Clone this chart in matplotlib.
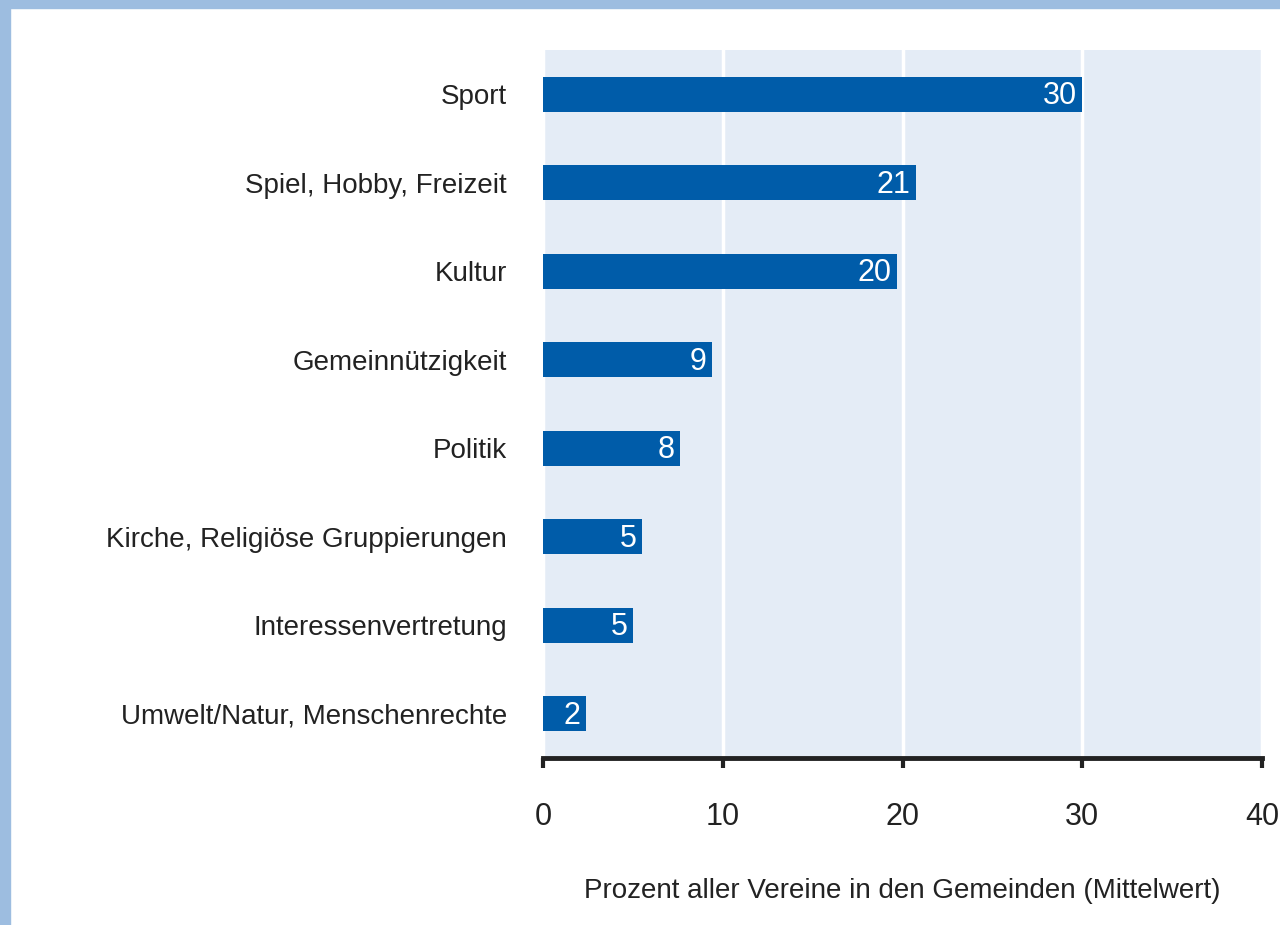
import matplotlib.pyplot as plt
from matplotlib.patches import Rectangle

categories = ["Sport", "Spiel, Hobby, Freizeit", "Kultur", "Gemeinnützigkeit",
              "Politik", "Kirche, Religiöse Gruppierungen", "Interessenvertretung",
              "Umwelt/Natur, Menschenrechte"]
values = [29.98, 20.75, 19.69, 9.40, 7.62, 5.51, 5.01, 2.39]
value_labels = ["30", "21", "20", "9", "8", "5", "5", "2"]
xticks = [0, 10, 20, 30, 40]

plt.rcParams['font.family'] = ['Liberation Sans', 'DejaVu Sans']
fs = 20
txt = '#222222'

fig = plt.figure(figsize=(12.8, 9.25), dpi=100)
fig.patch.set_facecolor('white')

# light blue frame at left and top
fig.patches.append(Rectangle((0, 0), 10 / 1280, 1, transform=fig.transFigure,
                             color='#9dbde0', zorder=0))
fig.patches.append(Rectangle((0, 1 - 8 / 925), 1, 8 / 925, transform=fig.transFigure,
                             color='#9dbde0', zorder=0))

ax = fig.add_axes([543 / 1280, 1 - 758 / 925, 719 / 1280, 708 / 925])
ax.set_facecolor('#e4ecf6')

y = list(range(len(categories)))
ax.barh(y, values, height=0.4, color='#005ca9', zorder=3)
for yi, v, lab in zip(y, values, value_labels):
    ax.text(v - 0.3, yi + 0.02, lab, color='white', ha='right', va='center',
            fontsize=22, zorder=4)

ax.set_xlim(0, 40)
ax.set_ylim(7.5, -0.5)
ax.set_xticks(xticks)
ax.set_yticks(y)
ax.set_yticklabels(categories, fontsize=fs, color=txt)
ax.tick_params(axis='y', length=0, pad=26)
ax.tick_params(axis='x', direction='out', length=7, width=3, labelsize=22,
               pad=25, colors=txt)
ax.xaxis.grid(True, color='white', linewidth=2.5, zorder=1)
ax.set_axisbelow(True)

for s in ['top', 'right', 'left']:
    ax.spines[s].set_visible(False)
ax.spines['bottom'].set_linewidth(3.5)
ax.spines['bottom'].set_color(txt)

ax.set_xlabel("Prozent aller Vereine in den Gemeinden (Mittelwert)", fontsize=fs,
              color=txt, labelpad=33)

fig.savefig("out.png", dpi=100)
